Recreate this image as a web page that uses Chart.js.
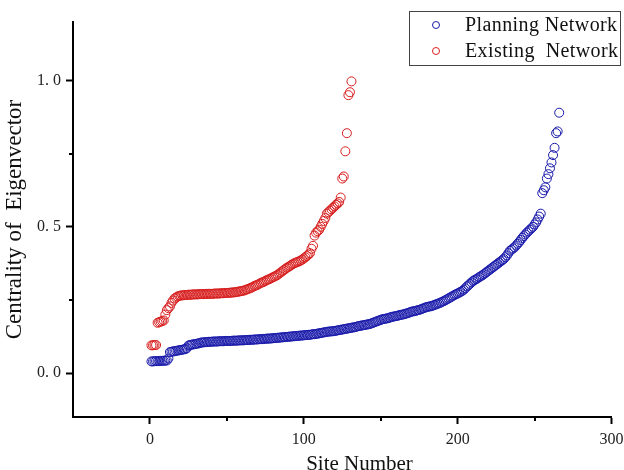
<!DOCTYPE html>
<html><head><meta charset="utf-8">
<script src="https://cdn.jsdelivr.net/npm/chart.js@4.4.1/dist/chart.umd.min.js"></script>
<style>html,body{margin:0;padding:0;background:#fff;overflow:hidden}#wrap{width:624px;height:470px}</style>
</head><body><div id="wrap"><canvas id="c" width="624" height="470"></canvas></div>
<script>
const planningLabel = 'Planning Network';
const existingLabel = 'Existing  Network';
const xTitle = 'Site Number';
const yTitle = 'Centrality of  Eigenvector';

const planningValues = [
0.040,0.040,0.041,0.041,0.041,0.041,0.042,0.042,0.042,0.043,
0.043,0.050,0.072,0.073,0.074,0.075,0.076,0.077,0.078,0.079,
0.080,0.081,0.082,0.085,0.094,0.096,0.097,0.098,0.099,0.100,
0.101,0.102,0.104,0.105,0.105,0.106,0.106,0.107,0.107,0.107,
0.108,0.108,0.108,0.108,0.109,0.109,0.109,0.109,0.110,0.110,
0.110,0.110,0.110,0.111,0.111,0.111,0.111,0.112,0.112,0.112,
0.112,0.113,0.113,0.113,0.114,0.114,0.114,0.115,0.115,0.115,
0.116,0.116,0.116,0.117,0.117,0.118,0.118,0.118,0.119,0.119,
0.120,0.120,0.121,0.121,0.122,0.122,0.123,0.123,0.124,0.124,
0.125,0.125,0.126,0.126,0.127,0.127,0.128,0.128,0.129,0.129,
0.130,0.130,0.131,0.131,0.132,0.133,0.133,0.134,0.135,0.136,
0.137,0.138,0.139,0.140,0.141,0.142,0.142,0.143,0.143,0.144,
0.145,0.146,0.147,0.148,0.149,0.150,0.151,0.152,0.153,0.154,
0.155,0.156,0.157,0.158,0.160,0.161,0.162,0.163,0.164,0.165,
0.166,0.167,0.168,0.170,0.172,0.174,0.176,0.178,0.180,0.182,
0.184,0.185,0.186,0.187,0.188,0.190,0.192,0.193,0.194,0.195,
0.196,0.198,0.199,0.200,0.201,0.203,0.204,0.206,0.208,0.210,
0.211,0.212,0.213,0.215,0.216,0.218,0.220,0.222,0.224,0.226,
0.227,0.228,0.229,0.231,0.233,0.235,0.237,0.239,0.241,0.244,
0.246,0.249,0.252,0.255,0.258,0.261,0.264,0.267,0.270,0.272,
0.275,0.278,0.281,0.285,0.290,0.296,0.300,0.305,0.310,0.315,
0.318,0.321,0.324,0.328,0.331,0.334,0.338,0.342,0.346,0.350,
0.354,0.358,0.362,0.366,0.370,0.374,0.378,0.382,0.386,0.390,
0.396,0.402,0.410,0.418,0.422,0.426,0.430,0.436,0.442,0.448,
0.455,0.462,0.468,0.474,0.480,0.485,0.490,0.495,0.500,0.508,
0.515,0.525,0.535,0.545,0.615,0.625,0.635,0.665,0.680,0.700,
0.720,0.745,0.770,0.820,0.826,0.890
];

const existingValues = [
0.095,0.095,0.096,0.096,0.172,0.174,0.176,0.178,0.180,0.200,
0.215,0.222,0.228,0.240,0.248,0.255,0.258,0.262,0.264,0.265,
0.266,0.266,0.267,0.267,0.268,0.268,0.268,0.269,0.269,0.269,
0.269,0.270,0.270,0.270,0.270,0.270,0.271,0.271,0.271,0.271,
0.271,0.272,0.272,0.272,0.272,0.273,0.273,0.273,0.274,0.274,
0.274,0.275,0.275,0.276,0.276,0.277,0.278,0.279,0.280,0.281,
0.282,0.284,0.286,0.288,0.290,0.292,0.295,0.298,0.300,0.302,
0.305,0.308,0.310,0.312,0.315,0.318,0.320,0.322,0.325,0.328,
0.330,0.333,0.336,0.340,0.344,0.348,0.352,0.356,0.360,0.363,
0.366,0.370,0.373,0.376,0.378,0.380,0.382,0.385,0.388,0.392,
0.396,0.400,0.405,0.410,0.425,0.435,0.470,0.480,0.485,0.490,
0.500,0.510,0.520,0.530,0.545,0.550,0.555,0.560,0.565,0.570,
0.575,0.580,0.585,0.600,0.665,0.672,0.758,0.820,0.950,0.960,
0.997
];

const xTickValues = [0, 100, 200, 300];
const xTickLabels = ['0', '100', '200', '300'];
const yTickValues = [0, 0.5, 1.0];
const yTickLabels = ['0. 0', '0. 5', '1. 0'];
const xMinorTicks = [50, 150, 250];
const yMinorTicks = [0.25, 0.75];

const FONT = "'Liberation Serif', 'Times New Roman', serif";
Chart.defaults.font.family = FONT;

const planningColor = 'rgb(25,25,170)';
const existingColor = 'rgb(215,30,30)';

const planningPoints = planningValues.map((v, i) => ({x: i + 1, y: v}));
const existingPoints = existingValues.map((v, i) => ({x: i + 1, y: v}));

const extras = {
  id: 'extras',
  afterDraw(chart) {
    const ctx = chart.ctx;
    const xs = chart.scales.x, ys = chart.scales.y;
    ctx.save();
    ctx.strokeStyle = '#000';
    ctx.lineWidth = 2;
    xMinorTicks.forEach(v => {
      const px = Math.round(xs.getPixelForValue(v));
      ctx.beginPath(); ctx.moveTo(px, chart.chartArea.bottom); ctx.lineTo(px, chart.chartArea.bottom + 4); ctx.stroke();
    });
    yMinorTicks.forEach(v => {
      const py = Math.round(ys.getPixelForValue(v));
      ctx.beginPath(); ctx.moveTo(chart.chartArea.left - 4, py); ctx.lineTo(chart.chartArea.left, py); ctx.stroke();
    });
    ctx.fillStyle = '#111';
    ctx.font = '21px ' + FONT;
    ctx.textAlign = 'center';
    ctx.textBaseline = 'alphabetic';
    ctx.fillText(xTitle, 359.5, 470);
    ctx.lineWidth = 1;
    ctx.strokeStyle = '#444';
    ctx.strokeRect(409.5, 11.5, 211, 54);
    chart.data.datasets.forEach((ds, i) => {
      const cy = 25 + i * 26;
      ctx.beginPath();
      ctx.arc(436, cy, 3.5, 0, Math.PI * 2);
      ctx.strokeStyle = ds.borderColor;
      ctx.lineWidth = 1;
      ctx.stroke();
      ctx.fillStyle = '#111';
      ctx.font = '20px ' + FONT;
      ctx.textAlign = 'left';
      ctx.letterSpacing = '0.4px';
      ctx.fillText(ds.label, 465, cy + 6);
      ctx.letterSpacing = '0px';
    });
    ctx.restore();
  }
};

new Chart(document.getElementById('c'), {
  type: 'scatter',
  data: {
    datasets: [
      {label: planningLabel, data: planningPoints, borderColor: planningColor, backgroundColor: 'rgba(0,0,0,0)', pointRadius: 4.5, pointBorderWidth: 1, pointHoverRadius: 4.5},
      {label: existingLabel, data: existingPoints, borderColor: existingColor, backgroundColor: 'rgba(0,0,0,0)', pointRadius: 4.5, pointBorderWidth: 1, pointHoverRadius: 4.5}
    ]
  },
  options: {
    responsive: false,
    animation: false,
    events: [],
    layout: {padding: {top: 22, right: 12.5, left: 0, bottom: 0}},
    plugins: {legend: {display: false}, tooltip: {enabled: false}},
    scales: {
      x: {
        type: 'linear', min: -50, max: 300,
        afterBuildTicks: s => { s.ticks = xTickValues.map(v => ({value: v})); },
        afterFit: s => { s.height = 53; s.paddingLeft = 0; s.paddingRight = 0; },
        ticks: {autoSkip: false, maxRotation: 0, padding: 6, color: '#222', font: {size: 16},
          callback: v => xTickLabels[xTickValues.indexOf(v)]},
        grid: {drawOnChartArea: false, drawTicks: true, tickLength: 7, tickColor: '#000', tickWidth: 2},
        border: {display: true, color: '#000', width: 2},
        title: {display: false, text: xTitle}
      },
      y: {
        type: 'linear', min: -0.15, max: 1.2,
        afterBuildTicks: s => { s.ticks = yTickValues.map(v => ({value: v})); },
        afterFit: s => { s.width = 73; s.paddingTop = 0; s.paddingBottom = 0; },
        ticks: {autoSkip: false, padding: 5, color: '#222', font: {size: 16},
          callback: v => yTickLabels[yTickValues.indexOf(v)]},
        grid: {drawOnChartArea: false, drawTicks: true, tickLength: 7, tickColor: '#000', tickWidth: 2},
        border: {display: true, color: '#000', width: 2},
        title: {display: true, text: yTitle, color: '#111', font: {size: 23}, padding: {top: 1, bottom: 0}}
      }
    }
  },
  plugins: [extras]
});
</script>
</body></html>
